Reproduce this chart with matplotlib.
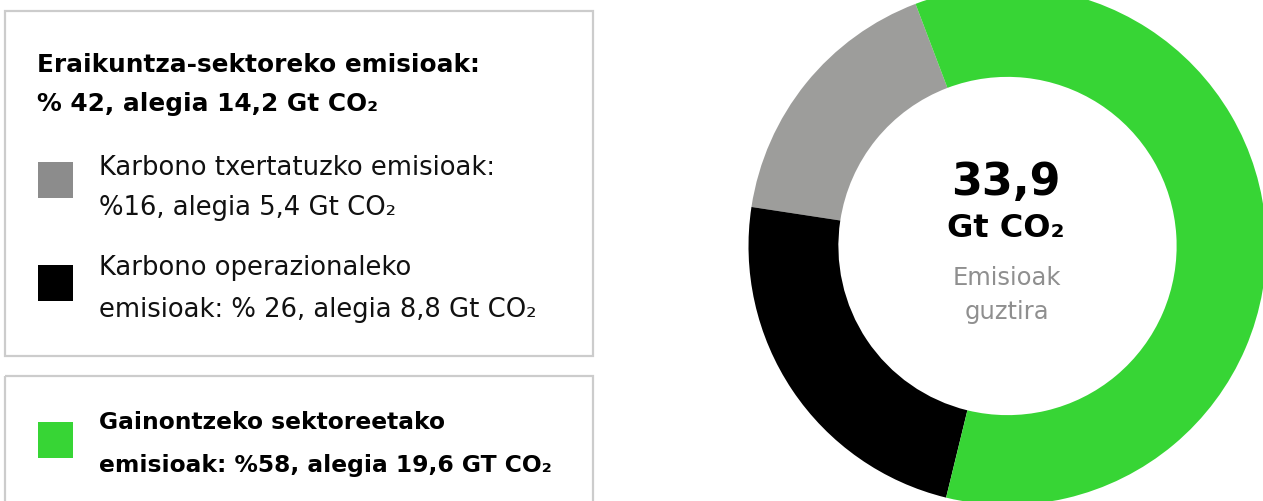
import matplotlib
matplotlib.use("Agg")
import matplotlib.pyplot as plt
from matplotlib.patches import Rectangle

# ---- data ----
categories = ["Karbono txertatuzko emisioak", "Karbono operazionaleko emisioak", "Gainontzeko sektoreetako emisioak"]
labelled_values = [5.4, 8.8, 19.6]      # Gt CO2 as written in the legend
drawn_values = [5.7, 8.0, 20.2]         # slice sizes as read from the drawn ring
colors = ["#9d9d9b", "#000000", "#37d535"]
legend_colors = ["#8c8c8c", "#000000", "#37d535"]
total_label = "33,9"
unit_label = "Gt CO₂"
center_sub = ["Emisioak", "guztira"]
building_title = ["Eraikuntza-sektoreko emisioak:", "% 42, alegia 14,2 Gt CO₂"]
legend_texts = [
    ["Karbono txertatuzko emisioak:", "%16, alegia 5,4 Gt CO₂"],
    ["Karbono operazionaleko", "emisioak: % 26, alegia 8,8 Gt CO₂"],
    ["Gainontzeko sektoreetako", "emisioak: %58, alegia 19,6 GT CO₂"],
]

plt.rcParams['font.family'] = ['DejaVu Sans']

W, H = 1263, 502
fig = plt.figure(figsize=(W / 100, H / 100), dpi=100)
fig.patch.set_facecolor("white")

ax = fig.add_axes([0, 0, 1, 1])
ax.set_xlim(0, W)
ax.set_ylim(H, 0)
ax.axis("off")

# boxes
ax.add_patch(Rectangle((5, 12), 588, 345, fill=False, edgecolor="#cccccc", lw=1.6))
ax.add_patch(Rectangle((5, 377), 588, 140, fill=False, edgecolor="#cccccc", lw=1.6, clip_on=False))

# title
ax.text(37, 65, building_title[0], fontsize=17.8, fontweight="bold", va="center", ha="left")
ax.text(37, 104, building_title[1], fontsize=17.8, fontweight="bold", va="center", ha="left")

# legend entries
sq_y = [163, 266, 423]
line_y = [(168, 208), (268, 310), (423, 466)]
for i in range(3):
    ax.add_patch(Rectangle((38, sq_y[i]), 35, 36, facecolor=legend_colors[i], edgecolor="none"))
    if i == 2:
        fw, fs, col = "bold", 16.8, "#000000"
    else:
        fw, fs, col = "normal", 18.6, "#111111"
    for j in range(2):
        ax.text(99, line_y[i][j], legend_texts[i][j], fontsize=fs, fontweight=fw,
                va="center", ha="left", color=col)

# donut
cx, cy, R = 1007.5, 247, 259
pax = fig.add_axes([(cx - R) / W, (H - cy - R) / H, 2 * R / W, 2 * R / H])
pax.pie(drawn_values, colors=colors, startangle=110.8, counterclock=True, radius=1,
        wedgeprops=dict(width=0.347, edgecolor="none"))
pax.set_xlim(-1, 1)
pax.set_ylim(-1, 1)
pax.axis("off")

# center text
ax.text(1005.5, 195, total_label, fontsize=32, fontweight="bold", va="baseline", ha="center")
ax.text(1006, 237, unit_label, fontsize=23, fontweight="bold", va="baseline", ha="center")
ax.text(1007, 285.5, center_sub[0], fontsize=17.5, color="#8f8f8f", va="baseline", ha="center")
ax.text(1007, 319, center_sub[1], fontsize=17.5, color="#8f8f8f", va="baseline", ha="center")

fig.savefig("out.png", dpi=100, facecolor="white")
